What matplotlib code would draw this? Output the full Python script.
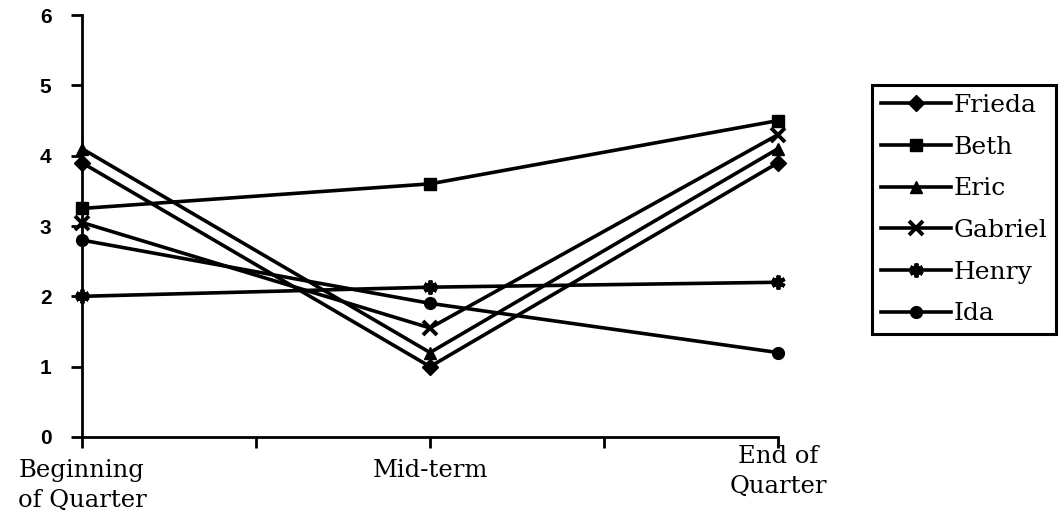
import matplotlib.pyplot as plt
import matplotlib.transforms as mtransforms

# Dữ liệu
points = ["Beginning\nof Quarter", "Mid-term", "End of\nQuarter"]
names = ["Frieda", "Beth", "Eric", "Gabriel", "Henry", "Ida"]
frieda = [3.9, 1.0, 3.9]
beth = [3.25, 3.6, 4.5]
eric = [4.1, 1.2, 4.1]
gabriel = [3.05, 1.55, 4.3]
henry = [2.0, 2.13, 2.2]
ida = [2.8, 1.9, 1.2]

series = [frieda, beth, eric, gabriel, henry, ida]
markers = ["D", "s", "^", "x", (6, 2, 0), "o"]

fig = plt.figure(figsize=(10.61, 5.22), dpi=100)
ax = fig.add_axes([0.0773, 0.163, 0.656, 0.808])

xs = list(range(len(points)))
for name, vals, m in zip(names, series, markers):
    thin = m in ("x", (6, 2, 0))
    ax.plot(xs, vals, color="black", linewidth=2.6, marker=m,
            markersize=10 if thin else 8.5,
            markeredgewidth=2.8 if thin else 1, label=name, clip_on=False)

ax.set_xlim(0, 2)
ax.set_ylim(0, 6)
ax.set_yticks(range(7))
ax.set_xticks(xs)
ax.set_xticklabels(points, family="DejaVu Serif", fontsize=17.5,
                   linespacing=1.35)
ax.set_xticks([0.5, 1.5], minor=True)
for lbl in ax.get_yticklabels():
    lbl.set_fontweight("bold")
    lbl.set_fontsize(15)
    lbl.set_family("Liberation Sans")

ax.spines["top"].set_visible(False)
ax.spines["right"].set_visible(False)
ax.spines["left"].set_linewidth(2)
ax.spines["bottom"].set_linewidth(2)
ax.tick_params(axis="both", which="both", direction="out", length=8, width=2)
ax.tick_params(axis="x", pad=8)
ax.tick_params(axis="y", pad=14)

# nhãn "End of Quarter" nằm cao hơn một chút
lbl_end = ax.get_xticklabels()[2]
lbl_end.set_transform(lbl_end.get_transform() +
                      mtransforms.ScaledTranslation(0, 0.14, fig.dpi_scale_trans))

leg = fig.legend(loc="upper left", bbox_to_anchor=(872 / 1061, 1 - 85 / 522),
                 prop={"family": "DejaVu Serif", "size": 18}, frameon=True,
                 fancybox=False, edgecolor="black", handlelength=2.8,
                 handletextpad=0.1, borderpad=0.35, labelspacing=0.75,
                 borderaxespad=0, framealpha=1)
leg.get_frame().set_linewidth(2.2)

plt.savefig("out.png")
plt.close()
